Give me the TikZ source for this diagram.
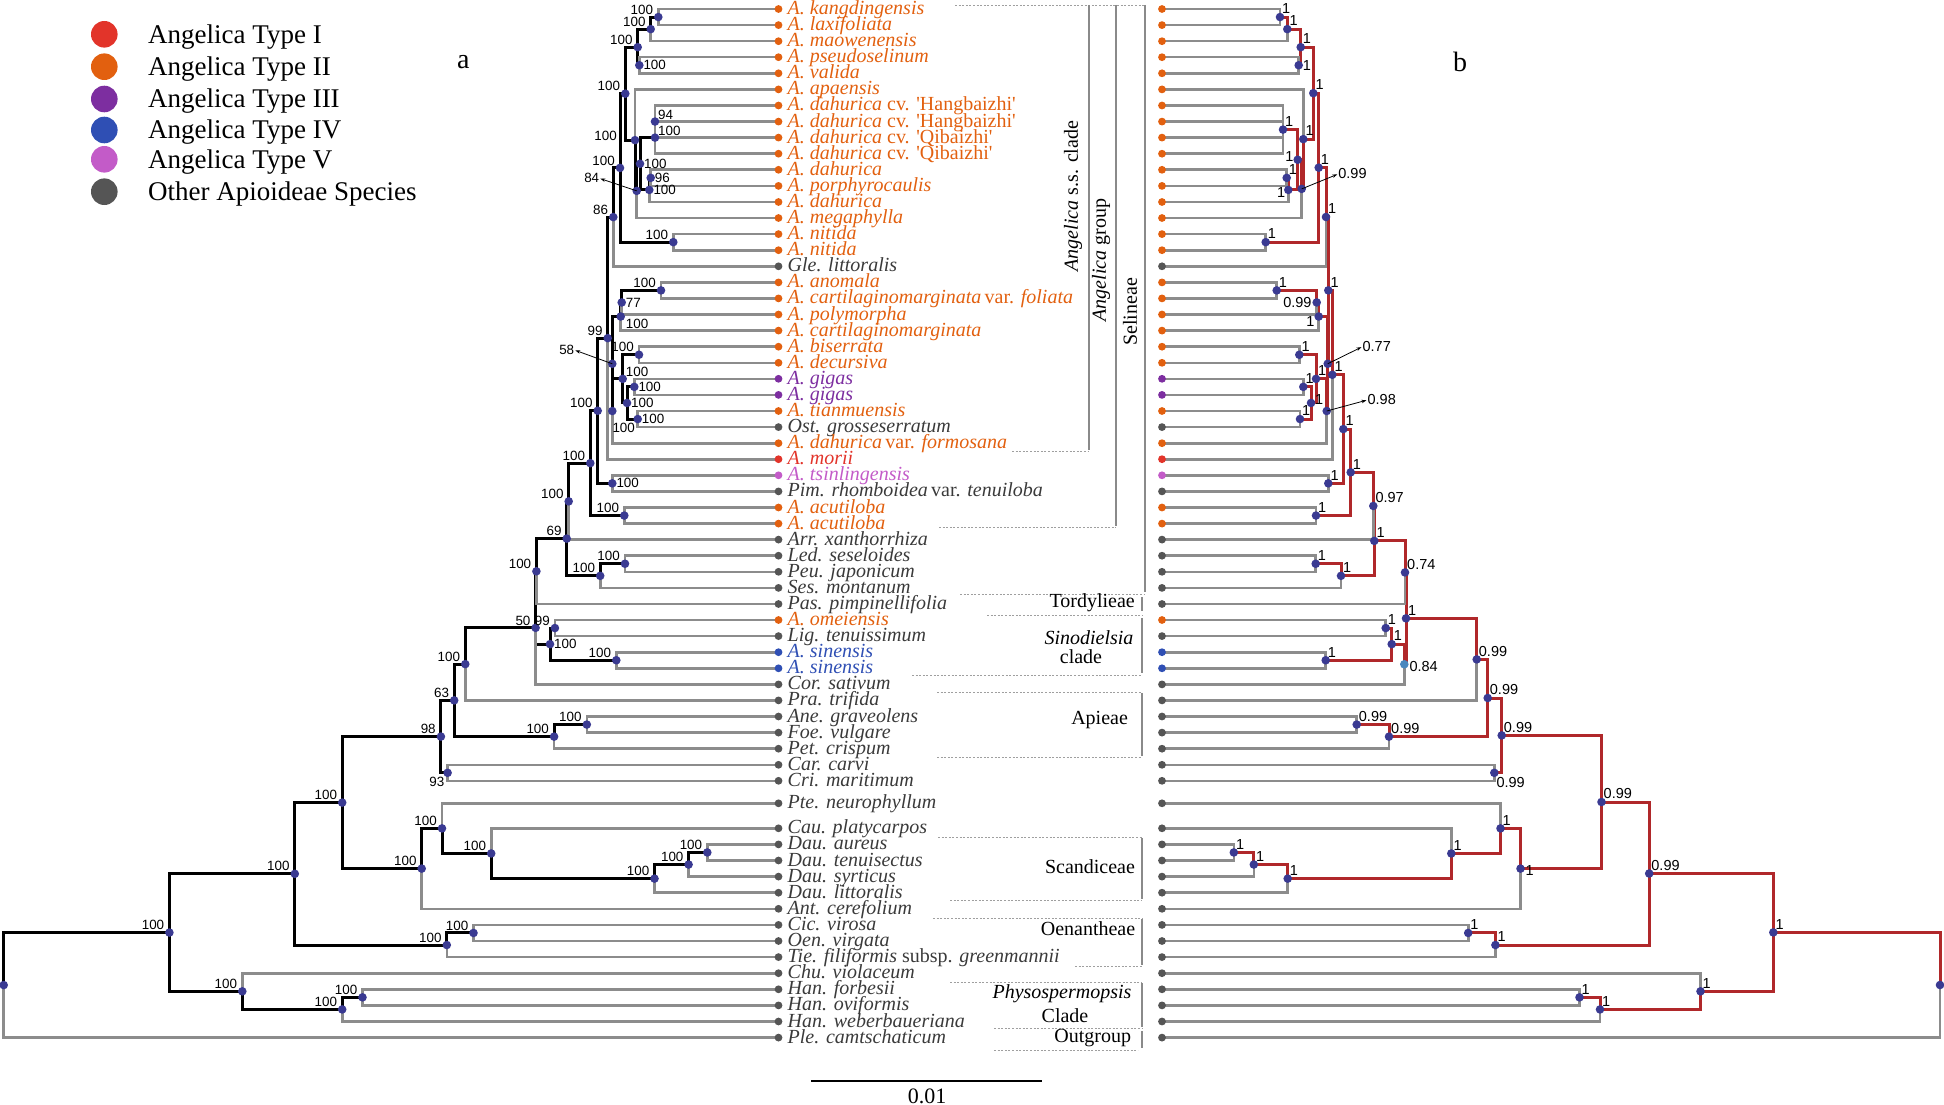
\documentclass[tikz,border=0pt]{standalone}
\usepackage{fontspec}
\setmainfont{Liberation Serif}
\newfontfamily\supfont{Liberation Sans}
\usetikzlibrary{calc,arrows.meta}
\definecolor{cI}{HTML}{E2342A}
\definecolor{cII}{HTML}{E2600F}
\definecolor{cIII}{HTML}{7D2EA0}
\definecolor{cIV}{HTML}{2F4FB4}
\definecolor{cV}{HTML}{C35BC8}
\definecolor{cO}{HTML}{555555}
\definecolor{tO}{HTML}{3A3A3A}
\definecolor{nodeblue}{HTML}{3A3A92}
\definecolor{branchgrey}{HTML}{8C8C8C}
\definecolor{branchred}{HTML}{B0282A}
\definecolor{lightnode}{HTML}{4A88BE}
\definecolor{bargrey}{HTML}{8A8A8A}
\newcommand\mkin[4]{\path let \p1=($(#3)!0.5!(#4)$) in (#2pt,\y1) coordinate (#1);}
\begin{document}
\begin{tikzpicture}[x=1pt,y=-1pt,
  gterm/.style={draw=branchgrey, line width=2.6pt},
  kint/.style={draw=black, line width=3pt},
  rint/.style={draw=branchred, line width=3pt},
  bsa/.style={font=\supfont\fontsize{13.4}{14}\selectfont, inner sep=0pt},
  bsb/.style={font=\supfont\fontsize{14.5}{15}\selectfont, inner sep=0pt},
  la/.style={anchor=south east, xshift=-5pt, yshift=2.5pt},
  laE/.style={anchor=east, xshift=-18pt, yshift=4pt},
  rt/.style={anchor=west, xshift=4pt},
  rab/.style={anchor=south west, xshift=3pt, yshift=2pt},
  rbl/.style={anchor=north west, xshift=5pt, yshift=-2pt},
  blw/.style={anchor=north west, xshift=0pt, yshift=-12pt},
  lbw/.style={anchor=north east, xshift=-3pt, yshift=-4.5pt},
  rb/.style={anchor=south west, xshift=2pt, yshift=3pt},
  lt/.style={anchor=east, xshift=-5pt},
  ltd/.style={anchor=east, xshift=-3pt, yshift=-3pt},
  lk/.style={anchor=east, xshift=-4pt, yshift=3pt},
  lbb/.style={anchor=north east, xshift=-4pt, yshift=0pt},
  rtu/.style={anchor=west, xshift=4pt, yshift=3pt},
  rtd/.style={anchor=west, xshift=5pt, yshift=-2pt},
  rbd/.style={anchor=north west, xshift=2pt, yshift=-4pt},
  leaf/.style={font=\fontsize{20}{20}\selectfont\itshape, inner sep=0pt, anchor=base west},
  clade/.style={font=\fontsize{20}{20}\selectfont, inner sep=0pt},
  dashln/.style={draw=gray!75, line width=0.9pt, dash pattern=on 2pt off 1.6pt},
  bar/.style={draw=bargrey, line width=2.8pt},
  pointer/.style={draw=black, line width=0.8pt, -{Stealth[length=5pt,width=3.5pt]}, shorten >=1pt},
]
\path[use as bounding box] (0,0) rectangle (1944,1105);

% leaf positions
\foreach \i/\yy in {1/9.0,2/25.1,3/41.2,4/57.2,5/73.3,6/89.4,7/105.5,8/121.6,9/137.6,10/153.7,11/169.8,12/185.9,13/202.0,14/218.0,15/234.1,16/250.2,17/266.3,18/282.4,19/298.4,20/314.5,21/330.6,22/346.7,23/362.8,24/378.8,25/394.9,26/411.0,27/427.1,28/443.2,29/459.2,30/475.3,31/491.4,32/507.5,33/523.6,34/539.6,35/555.7,36/571.8,37/587.9,38/604.0,39/620.0,40/636.1,41/652.2,42/668.3,43/684.4,44/700.4,45/716.5,46/732.6,47/748.7,48/764.8,49/780.8,50/803.3,51/828.3,52/844.4,53/860.5,54/876.6,55/892.7,56/908.8,57/924.9,58/941.0,59/957.1,60/973.2,61/989.3,62/1005.4,63/1021.5,64/1037.6}
{\coordinate (la\i) at (778.5,\yy); \coordinate (lb\i) at (1162,\yy);}

% panel a internal nodes
\mkin{aA}{658.3}{la1}{la2}
\mkin{aB}{650.7}{aA}{la3}
\mkin{aC}{639.3}{la4}{la5}
\mkin{aD}{637.7}{aB}{aC}
\mkin{aHn}{655}{la7}{la9}
\mkin{aH}{655}{aHn}{la10}
\mkin{aDp}{650.7}{la11}{la12}
\mkin{aJ}{649.3}{aDp}{la13}
\mkin{aK}{640}{aH}{aJ}
\mkin{aEi}{636.7}{aK}{la14}
\mkin{aE}{635}{la6}{aEi}
\mkin{aF}{625.3}{aD}{aE}
\mkin{aL}{673.3}{la15}{la16}
\mkin{aM}{620}{aF}{aL}
\mkin{aN}{613.3}{aM}{la17}
\mkin{aPa}{661}{la18}{la19}
\mkin{aPb}{621.7}{aPa}{la20}
\mkin{aPc}{620.7}{aPb}{la21}
\mkin{aQa}{639}{la22}{la23}
\mkin{aQb}{634.3}{la24}{la25}
\mkin{aQc}{637.7}{la26}{la27}
\mkin{aQd}{627}{aQb}{aQc}
\mkin{aQe}{622.7}{aQa}{aQd}
\mkin{aT}{612.3}{aQe}{la28}
\mkin{aS}{612.3}{aPc}{aT}
\mkin{aNn}{607.7}{aN}{la29}
\mkin{aW}{612.3}{la30}{la31}
\mkin{aX}{597.7}{aNn}{aW}
\mkin{aY}{624.3}{la32}{la33}
\mkin{aZ}{590.3}{aX}{aY}
\mkin{aZA}{568.7}{aZ}{la34}
\mkin{aLP}{625}{la35}{la36}
\mkin{aAB}{600.2}{aLP}{la37}
\mkin{aSn}{566.7}{aZA}{aAB}
\mkin{aAC}{536.4}{aSn}{la38}
\mkin{aAD}{554.9}{la39}{la40}
\mkin{aAE}{616.3}{la41}{la42}
\mkin{aAF}{550}{aAD}{aAE}
\mkin{aFi}{535.6}{aAC}{la43}
\mkin{aAG}{465.3}{aFi}{la44}
\mkin{aAn}{586.8}{la45}{la46}
\mkin{aAH}{554.1}{aAn}{la47}
\mkin{aSx}{454.2}{aAG}{aAH}
\mkin{aNt}{447.6}{la48}{la49}
\mkin{aNe}{440.9}{aSx}{aNt}
\mkin{aDa}{707.3}{la52}{la53}
\mkin{aDb}{688.6}{aDa}{la54}
\mkin{aDc}{654.5}{aDb}{la55}
\mkin{aAJ}{491.2}{la51}{aDc}
\mkin{aAI}{442}{la50}{aAJ}
\mkin{aAK}{421.7}{aAI}{la56}
\mkin{aU}{342.2}{aNe}{aAK}
\mkin{aCO}{473.5}{la57}{la58}
\mkin{aOe}{446.8}{aCO}{la59}
\mkin{aAL}{294.8}{aU}{aOe}
\mkin{aHf}{362.5}{la61}{la62}
\mkin{aHw}{342.2}{aHf}{la63}
\mkin{aCH}{242.3}{la60}{aHw}
\mkin{aV}{169.4}{aAL}{aCH}
\mkin{aR}{3.7}{aV}{la64}

% panel b internal nodes
\mkin{bA}{1280}{lb1}{lb2}
\mkin{bB}{1287.3}{bA}{lb3}
\mkin{bC}{1298.7}{lb4}{lb5}
\mkin{bD}{1300.7}{bB}{bC}
\mkin{bH}{1283}{lb7}{lb10}
\mkin{bDp}{1286.7}{lb11}{lb12}
\mkin{bJ}{1288.3}{bDp}{lb13}
\mkin{bK}{1297.7}{bH}{bJ}
\mkin{bEi}{1301.7}{bK}{lb14}
\mkin{bE}{1303.3}{lb6}{bEi}
\mkin{bF}{1313.3}{bD}{bE}
\mkin{bL}{1265.7}{lb15}{lb16}
\mkin{bM}{1318.7}{bF}{bL}
\mkin{bN}{1326}{bM}{lb17}
\mkin{bPa}{1276.7}{lb18}{lb19}
\mkin{bPb}{1316.7}{bPa}{lb20}
\mkin{bPc}{1318.7}{bPb}{lb21}
\mkin{bQa}{1299.3}{lb22}{lb23}
\mkin{bQb}{1303.3}{lb24}{lb25}
\mkin{bQc}{1300}{lb26}{lb27}
\mkin{bQd}{1311}{bQb}{bQc}
\mkin{bQe}{1316}{bQa}{bQd}
\mkin{bT}{1326.7}{bQe}{lb28}
\mkin{bS}{1327.7}{bPc}{bT}
\mkin{bNS}{1328.3}{bN}{bS}
\mkin{bNm}{1332.3}{bNS}{lb29}
\mkin{bW}{1328.3}{lb30}{lb31}
\mkin{bX}{1343.3}{bNm}{bW}
\mkin{bY}{1316}{lb32}{lb33}
\mkin{bZ}{1350.7}{bX}{bY}
\mkin{bZA}{1373.3}{bZ}{lb34}
\mkin{bLP}{1315.7}{lb35}{lb36}
\mkin{bAB}{1341}{bLP}{lb37}
\mkin{bAA}{1374.3}{bZA}{bAB}
\mkin{bSf}{1405}{bAA}{lb38}
\mkin{bAD}{1385.7}{lb39}{lb40}
\mkin{bAE}{1325.7}{lb41}{lb42}
\mkin{bAF}{1391.7}{bAD}{bAE}
\mkin{bEf}{1404.3}{bAF}{lb43}
\mkin{bSel}{1406}{bSf}{bEf}
\mkin{bPra}{1476.7}{bSel}{lb44}
\mkin{bAn}{1356.7}{lb45}{lb46}
\mkin{bAH}{1389}{bAn}{lb47}
\mkin{bApi}{1487.7}{bPra}{bAH}
\mkin{bCC}{1494.3}{lb48}{lb49}
\mkin{bApj}{1501.7}{bApi}{bCC}
\mkin{bDa}{1233.8}{lb52}{lb53}
\mkin{bDb}{1253.8}{bDa}{lb54}
\mkin{bDc}{1287.7}{bDb}{lb55}
\mkin{bAJ}{1451.3}{lb51}{bDc}
\mkin{bAI}{1500.5}{lb50}{bAJ}
\mkin{bAK}{1520.5}{bAI}{lb56}
\mkin{bU}{1601.5}{bApj}{bAK}
\mkin{bCO}{1468.2}{lb57}{lb58}
\mkin{bOe}{1495.4}{bCO}{lb59}
\mkin{bAL}{1649.2}{bU}{bOe}
\mkin{bHf}{1579.5}{lb61}{lb62}
\mkin{bHw}{1600}{bHf}{lb63}
\mkin{bCH}{1700.5}{lb60}{bHw}
\mkin{bV}{1773.3}{bAL}{bCH}
\mkin{bR}{1940}{bV}{lb64}

% clade bars and dashed separators
\draw[dashln] (955,5) -- (1145,5);
\draw[dashln] (1012,451) -- (1089,451);
\draw[dashln] (939,527.5) -- (1116,527.5);
\draw[dashln] (960,594) -- (1145,594);
\draw[dashln] (987,615) -- (1142,615);
\draw[dashln] (912,675) -- (1142,675);
\draw[dashln] (937,692) -- (1142,692);
\draw[dashln] (937,757.5) -- (1142,757.5);
\draw[dashln] (938,837) -- (1142,837);
\draw[dashln] (950,900) -- (1142,900);
\draw[dashln] (933,918) -- (1142,918);
\draw[dashln] (1075,966) -- (1142,966);
\draw[dashln] (950,982) -- (1142,982);
\draw[dashln] (994,1028.5) -- (1142,1028.5);
\draw[dashln] (994,1050.5) -- (1138,1050.5);
\draw[bar] (1089,5) -- (1089,450);
\draw[bar] (1116,5) -- (1116,526);
\draw[bar] (1145,5) -- (1145,592);
\draw[bar] (1142,597) -- (1142,611);
\draw[bar] (1142,618) -- (1142,673);
\draw[bar] (1142,693) -- (1142,756);
\draw[bar] (1142,838) -- (1142,899);
\draw[bar] (1142,919) -- (1142,965);
\draw[bar] (1142,983) -- (1142,1027);
\draw[bar] (1142,1031) -- (1142,1048);

\node[clade, rotate=90] (cl1) at (1073,196) {\textit{Angelica} s.s. clade};
\node[clade, rotate=90] (cl2) at (1101,260) {\textit{Angelica} group};
\node[clade, rotate=90] (cl3) at (1130,312) {Selineae};
\node[clade, anchor=east] (cl4) at (1135,603) {Tordylieae};
\node[clade] (cl5a) at (1089,638) {\textit{Sinodielsia}};
\node[clade] (cl5b) at (1081,657) {clade};
\node[clade] (cl6) at (1099.6,720) {Apieae};
\node[clade] (cl7) at (1090,867) {Scandiceae};
\node[clade] (cl8) at (1088,929) {Oenantheae};
\node[clade] (cl9a) at (1062,994) {\textit{Physospermopsis}};
\node[clade] (cl9b) at (1065,1016) {Clade};
\node[clade] (cl10) at (1092.7,1037.7) {Outgroup};

% panel a edges
\foreach \p/\q in {aB/aA, aD/aB, aD/aC, aJ/aDp, aK/aH, aK/aJ, aEi/aK, aE/aEi, aF/aD, aF/aE, aM/aF, aM/aL, aN/aM, aPb/aPa, aPc/aPb, aQd/aQb, aQd/aQc, aQe/aQa, aQe/aQd, aT/aQe, aS/aPc, aS/aT, aNn/aN, aNn/aS, aX/aNn, aX/aW, aZ/aX, aZ/aY, aZA/aZ, aAB/aLP, aSn/aZA, aSn/aAB, aAC/aSn, aAF/aAD, aAF/aAE, aFi/aAC, aFi/aAF, aAG/aFi, aAH/aAn, aSx/aAG, aSx/aAH, aNe/aSx, aNe/aNt, aDb/aDa, aDc/aDb, aAJ/aDc, aAI/aAJ, aAK/aAI, aU/aNe, aU/aAK, aOe/aCO, aAL/aU, aAL/aOe, aHw/aHf, aCH/aHw, aV/aAL, aV/aCH, aR/aV}
  \draw[kint] (\p) |- (\q);
\foreach \p/\q in {aA/la1, aA/la2, aB/la3, aC/la4, aC/la5, aE/la6, aHn/la7, aHn/la8, aHn/la9, aH/la10, aH/aHn, aDp/la11, aDp/la12, aJ/la13, aEi/la14, aL/la15, aL/la16, aN/la17, aPa/la18, aPa/la19, aPb/la20, aPc/la21, aQa/la22, aQa/la23, aQb/la24, aQb/la25, aQc/la26, aQc/la27, aT/la28, aNn/la29, aW/la30, aW/la31, aY/la32, aY/la33, aZA/la34, aLP/la35, aLP/la36, aAB/la37, aAC/la38, aAD/la39, aAD/la40, aAE/la41, aAE/la42, aFi/la43, aAG/la44, aAn/la45, aAn/la46, aAH/la47, aNt/la48, aNt/la49, aAI/la50, aAJ/la51, aDa/la52, aDa/la53, aDb/la54, aDc/la55, aAK/la56, aCO/la57, aCO/la58, aOe/la59, aCH/la60, aHf/la61, aHf/la62, aHw/la63, aR/la64}
  \draw[gterm] (\p) |- (\q);

% panel b edges
\foreach \p/\q in {bB/bA, bD/bB, bD/bC, bF/bD, bF/bE, bE/bEi, bEi/bK, bK/bH, bK/bJ, bJ/bDp, bM/bF, bM/bL, bN/bM, bNS/bN, bNS/bS, bS/bPc, bS/bT, bPc/bPb, bPb/bPa, bT/bQe, bQe/bQa, bQe/bQd, bQd/bQb, bQd/bQc, bNm/bNS, bX/bNm, bX/bW, bZ/bX, bZ/bY, bZA/bZ, bAA/bZA, bAA/bAB, bAB/bLP, bSf/bAA, bSel/bSf, bSel/bEf, bEf/bAF, bAF/bAD, bAF/bAE, bPra/bSel, bApi/bPra, bApi/bAH, bAH/bAn, bApj/bApi, bApj/bCC, bU/bApj, bU/bAK, bAK/bAI, bAI/bAJ, bAJ/bDc, bDc/bDb, bDb/bDa, bAL/bU, bAL/bOe, bOe/bCO, bV/bAL, bV/bCH, bCH/bHw, bHw/bHf, bR/bV}
  \draw[rint] (\p) |- (\q);
\foreach \p/\q in {bA/lb1, bA/lb2, bB/lb3, bC/lb4, bC/lb5, bE/lb6, bH/lb7, bH/lb8, bH/lb9, bH/lb10, bDp/lb11, bDp/lb12, bJ/lb13, bEi/lb14, bL/lb15, bL/lb16, bN/lb17, bPa/lb18, bPa/lb19, bPb/lb20, bPc/lb21, bQa/lb22, bQa/lb23, bQb/lb24, bQb/lb25, bQc/lb26, bQc/lb27, bT/lb28, bNm/lb29, bW/lb30, bW/lb31, bY/lb32, bY/lb33, bZA/lb34, bLP/lb35, bLP/lb36, bAB/lb37, bSf/lb38, bAD/lb39, bAD/lb40, bAE/lb41, bAE/lb42, bEf/lb43, bPra/lb44, bAn/lb45, bAn/lb46, bAH/lb47, bCC/lb48, bCC/lb49, bAI/lb50, bAJ/lb51, bDa/lb52, bDa/lb53, bDb/lb54, bDc/lb55, bAK/lb56, bCO/lb57, bCO/lb58, bOe/lb59, bCH/lb60, bHf/lb61, bHf/lb62, bHw/lb63, bR/lb64}
  \draw[gterm] (\p) |- (\q);

% internal node dots
\foreach \n in {aA,aB,aC,aD,aHn,aH,aDp,aJ,aK,aEi,aE,aF,aL,aM,aN,aPa,aPb,aPc,aQa,aQb,aQc,aQd,aQe,aT,aS,aNn,aW,aX,aY,aZ,aZA,aLP,aAB,aSn,aAC,aAD,aAE,aAF,aFi,aAG,aAn,aAH,aSx,aNt,aNe,aDa,aDb,aDc,aAJ,aAI,aAK,aU,aCO,aOe,aAL,aHf,aHw,aCH,aV,aR,bA,bB,bC,bD,bH,bDp,bJ,bK,bEi,bE,bF,bL,bM,bN,bPa,bPb,bPc,bQa,bQb,bQc,bQd,bQe,bT,bS,bNS,bNm,bW,bX,bY,bZ,bZA,bLP,bAB,bAA,bSf,bAD,bAE,bAF,bSel,bPra,bAn,bAH,bApi,bCC,bApj,bDa,bDb,bDc,bAJ,bAI,bAK,bU,bCO,bOe,bAL,bHf,bHw,bCH,bV,bR}
  \fill[nodeblue] (\n) circle[radius=4.3pt];
\fill[lightnode] (bEf) circle[radius=4.3pt];

% leaves: dots and names
\foreach \i/\c/\tc/\txt in {
1/cII/cII/{A. kangdingensis},
2/cII/cII/{A. laxifoliata},
3/cII/cII/{A. maowenensis},
4/cII/cII/{A. pseudoselinum},
5/cII/cII/{A. valida},
6/cII/cII/{A. apaensis},
7/cII/cII/{A. dahurica \textup{cv. \textquotesingle Hangbaizhi\textquotesingle}},
8/cII/cII/{A. dahurica \textup{cv. \textquotesingle Hangbaizhi\textquotesingle}},
9/cII/cII/{A. dahurica \textup{cv. \textquotesingle Qibaizhi\textquotesingle}},
10/cII/cII/{A. dahurica \textup{cv. \textquotesingle Qibaizhi\textquotesingle}},
11/cII/cII/{A. dahurica},
12/cII/cII/{A. porphyrocaulis},
13/cII/cII/{A. dahurica},
14/cII/cII/{A. megaphylla},
15/cII/cII/{A. nitida},
16/cII/cII/{A. nitida},
17/cO/tO/{Gle. littoralis},
18/cII/cII/{A. anomala},
19/cII/cII/{A. cartilaginomarginata\,\textup{var.} foliata},
20/cII/cII/{A. polymorpha},
21/cII/cII/{A. cartilaginomarginata},
22/cII/cII/{A. biserrata},
23/cII/cII/{A. decursiva},
24/cIII/cIII/{A. gigas},
25/cIII/cIII/{A. gigas},
26/cII/cII/{A. tianmuensis},
27/cO/tO/{Ost. grosseserratum},
28/cII/cII/{A. dahurica\,\textup{var.} formosana},
29/cI/cI/{A. morii},
30/cV/cV/{A. tsinlingensis},
31/cO/tO/{Pim. rhomboidea\,\textup{var.} tenuiloba},
32/cII/cII/{A. acutiloba},
33/cII/cII/{A. acutiloba},
34/cO/tO/{Arr. xanthorrhiza},
35/cO/tO/{Led. seseloides},
36/cO/tO/{Peu. japonicum},
37/cO/tO/{Ses. montanum},
38/cO/tO/{Pas. pimpinellifolia},
39/cII/cII/{A. omeiensis},
40/cO/tO/{Lig. tenuissimum},
41/cIV/cIV/{A. sinensis},
42/cIV/cIV/{A. sinensis},
43/cO/tO/{Cor. sativum},
44/cO/tO/{Pra. trifida},
45/cO/tO/{Ane. graveolens},
46/cO/tO/{Foe. vulgare},
47/cO/tO/{Pet. crispum},
48/cO/tO/{Car. carvi},
49/cO/tO/{Cri. maritimum},
50/cO/tO/{Pte. neurophyllum},
51/cO/tO/{Cau. platycarpos},
52/cO/tO/{Dau. aureus},
53/cO/tO/{Dau. tenuisectus},
54/cO/tO/{Dau. syrticus},
55/cO/tO/{Dau. littoralis},
56/cO/tO/{Ant. cerefolium},
57/cO/tO/{Cic. virosa},
58/cO/tO/{Oen. virgata},
59/cO/tO/{Tie. filiformis \textup{subsp.} greenmannii},
60/cO/tO/{Chu. violaceum},
61/cO/tO/{Han. forbesii},
62/cO/tO/{Han. oviformis},
63/cO/tO/{Han. weberbaueriana},
64/cO/tO/{Ple. camtschaticum}}
{
  \fill[\c] (la\i) circle[radius=3.9pt];
  \fill[\c] (lb\i) circle[radius=3.9pt];
  \node[leaf, text=\tc] (ta\i) at ([xshift=9pt,yshift=-5.5pt]la\i) {\txt};
}

% support values panel a
\foreach \n/\val/\sty in {aA/100/la, aB/100/la, aC/100/rt, aD/100/la, aHn/94/rab, aH/100/rab, aDp/96/rt, aJ/100/rt, aK/100/rt, aE/100/laE, aF/100/la, aL/100/la, aM/100/la, aN/86/la, aPa/100/la, aPb/77/rt, aPc/100/rbl, aQa/100/la, aQb/100/rt, aQc/100/rt, aQd/100/rt, aQe/100/rab, aT/100/blw, aNn/99/la, aW/100/rt, aX/100/la, aY/100/la, aZ/100/la, aZA/100/la, aLP/100/la, aAB/100/la, aSn/69/la, aAC/100/la, aAD/99/la, aAE/100/la, aAF/100/rt, aFi/50/la, aAG/100/la, aAn/100/la, aAH/100/la, aSx/63/la, aNt/93/lbw, aNe/98/la, aDa/100/la, aDb/100/la, aDc/100/la, aAJ/100/la, aAI/100/la, aAK/100/la, aU/100/la, aCO/100/la, aOe/100/la, aAL/100/la, aHf/100/la, aHw/100/la, aCH/100/la, aV/100/la}
  \node[bsa,\sty] (t\n) at (\n) {\val};
\node[bsa] (taEi) at (591.7,178.3) {84};
\node[bsa] (taS) at (566.7,350) {58};
\draw[pointer] (aEi) -- (taEi.east);
\draw[pointer] (aS) -- (taS.east);

% posterior values panel b
\foreach \n/\val/\sty in {bA/1/rb, bB/1/rb, bC/1/rt, bD/1/rb, bH/1/rb, bDp/1/rb, bJ/1/ltd, bK/1/lk, bE/1/rb, bF/1/rb, bL/1/rb, bM/1/rb, bN/1/rb, bPa/1/rb, bPb/0.99/lt, bPc/1/lbb, bQa/1/rb, bQb/1/rb, bQc/1/rb, bQd/1/rtu, bQe/1/rb, bNS/1/rb, bNm/1/rb, bW/1/rb, bX/1/rb, bY/1/rb, bZ/1/rb, bZA/0.97/rb, bLP/1/rb, bAB/1/rb, bAA/1/rb, bSf/0.74/rb, bAD/1/rb, bAE/1/rb, bAF/1/rb, bEf/0.84/rtd, bSel/1/rb, bPra/0.99/rb, bAn/0.99/rb, bAH/0.99/rb, bApi/0.99/rb, bCC/0.99/rbd, bApj/0.99/rb, bDa/1/rb, bDb/1/rb, bDc/1/rb, bAJ/1/rb, bAI/1/rb, bAK/1/rtd, bU/0.99/rb, bCO/1/rb, bOe/1/rb, bAL/0.99/rb, bHf/1/rb, bHw/1/rb, bCH/1/rb, bV/1/rb}
  \node[bsb,\sty] (t\n) at (\n) {\val};
\node[bsb] (tbEi) at (1352.5,174) {0.99};
\node[bsb] (tbS) at (1376.7,346.7) {0.77};
\node[bsb] (tbT) at (1381.7,400) {0.98};
\draw[pointer] (bEi) -- (tbEi.west);
\draw[pointer] (bS) -- (tbS.west);
\draw[pointer] (bT) -- (tbT.west);

% legend
\foreach \k/\c/\txt/\yy in {1/cI/{Angelica Type I}/34.3, 2/cII/{Angelica Type II}/66.7, 3/cIII/{Angelica Type III}/99, 4/cIV/{Angelica Type IV}/130, 5/cV/{Angelica Type V}/159.3, 6/cO/{Other Apioideae Species}/191.7}
{
  \node[circle, fill=\c, minimum size=26.6pt, inner sep=0pt] (lg\k) at (104.3,\yy) {};
  \node[font=\fontsize{27}{28}\selectfont, inner sep=0pt, anchor=base west] (lt\k) at ([yshift=-9pt]148,\yy) {\txt};
}

% panel letters
\node[font=\fontsize{28}{28}\selectfont, inner sep=0pt] (pa) at (463.3,62) {a};
\node[font=\fontsize{28}{28}\selectfont, inner sep=0pt] (pb) at (1460,62) {b};

% scale bar
\coordinate (sb1) at (811,1080.7);
\coordinate (sb2) at (1042,1080.7);
\draw[line width=1.6pt] (sb1) -- (sb2);
\node[font=\fontsize{22}{22}\selectfont, inner sep=0pt] (sbl) at (927,1096) {0.01};
\end{tikzpicture}
\end{document}
